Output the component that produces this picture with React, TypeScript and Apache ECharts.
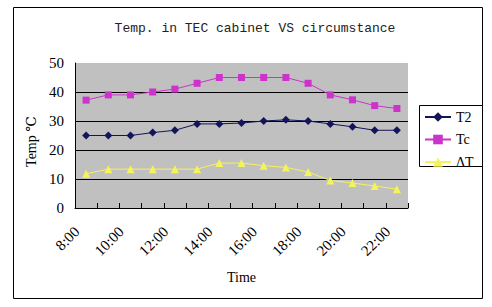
import React, { useEffect, useRef } from "react";
import * as echarts from "echarts";

const categories = ["8:00", "9:00", "10:00", "11:00", "12:00", "13:00", "14:00", "15:00", "16:00", "17:00", "18:00", "19:00", "20:00", "21:00", "22:00"];
const t2Values = [25, 25, 25, 26, 26.8, 29, 29, 29.3, 30, 30.4, 30, 29, 28, 26.8, 26.8];
const tcValues = [37.2, 39, 39, 40, 41, 43, 45, 45, 45, 45, 43, 39, 37.3, 35.3, 34.3];
const dtValues = [11.8, 13.4, 13.4, 13.4, 13.4, 13.4, 15.5, 15.5, 14.6, 14, 12.4, 9.5, 8.6, 7.6, 6.5];
const seriesNames = ["T2", "Tc", "ΔT"];
const titleText = "Temp. in TEC cabinet VS circumstance";
const xName = "Time";
const yName = "Temp ℃";

const serif = "'Liberation Serif', 'DejaVu Serif', serif";

export default function App() {
  const ref = useRef<HTMLDivElement>(null);
  useEffect(() => {
    if (!ref.current) return;
    const chart = echarts.init(ref.current, undefined, { renderer: "svg" });
    chart.setOption({
      animation: false,
      backgroundColor: "#ffffff",
      title: {
        text: titleText,
        left: 250,
        top: 17,
        textAlign: "center",
        textStyle: { fontFamily: "'Liberation Mono', monospace", fontSize: 13, fontWeight: "normal", color: "#222" },
      },
      graphic: [
        { type: "rect", shape: { x: 13.5, y: 7.5, width: 469, height: 291 }, style: { fill: "none", stroke: "#000", lineWidth: 1 }, z: -1 },
        { type: "rect", shape: { x: 419.5, y: 105.5, width: 63, height: 61 }, style: { fill: "#fff", stroke: "#000", lineWidth: 1 }, z: 0 },
      ],
      legend: {
        orient: "vertical",
        left: 424,
        top: 110,
        itemWidth: 26,
        itemHeight: 12,
        itemGap: 8.5,
        padding: 0,
        z: 5,
        textStyle: { fontFamily: serif, fontSize: 14, color: "#000" },
        data: seriesNames,
      },
      grid: {
        left: 75,
        top: 63,
        width: 333,
        height: 145,
        show: true,
        backgroundColor: "#c0c0c0",
        borderWidth: 0,
      },
      xAxis: {
        type: "category",
        data: categories,
        boundaryGap: true,
        name: xName,
        nameLocation: "middle",
        nameGap: 62,
        nameTextStyle: { fontFamily: serif, fontSize: 14, color: "#000" },
        axisLine: { lineStyle: { color: "#000", width: 1 } },
        axisTick: { show: true, inside: true, length: 5, interval: 0, lineStyle: { color: "#000" } },
        axisLabel: {
          interval: 1,
          rotate: 45,
          margin: 12,
          padding: [0, 13, 0, 0],
          fontFamily: serif,
          fontSize: 15,
          color: "#000",
        },
        splitLine: { show: false },
      },
      yAxis: {
        type: "value",
        min: 0,
        max: 50,
        interval: 10,
        name: yName,
        nameLocation: "middle",
        nameRotate: 90,
        nameGap: 36,
        nameTextStyle: { fontFamily: serif, fontSize: 14, color: "#000", padding: [0, 12, 0, 0] },
        axisLine: { show: true, lineStyle: { color: "#000", width: 1 } },
        axisTick: { show: false },
        axisLabel: { margin: 11, fontFamily: serif, fontSize: 15, color: "#000" },
        splitLine: { show: true, showMaxLine: false, lineStyle: { color: "#000", width: 1 } },
      },
      series: [
        {
          name: seriesNames[0],
          type: "line",
          data: t2Values,
          symbol: "diamond",
          symbolSize: 8,
          itemStyle: { color: "#14145a" },
          lineStyle: { color: "#14145a", width: 1 },
        },
        {
          name: seriesNames[1],
          type: "line",
          data: tcValues,
          symbol: "rect",
          symbolSize: 7,
          itemStyle: { color: "#cc33cc" },
          lineStyle: { color: "#cc33cc", width: 1 },
        },
        {
          name: seriesNames[2],
          type: "line",
          data: dtValues,
          symbol: "triangle",
          symbolSize: 8,
          itemStyle: { color: "#f4f45a" },
          lineStyle: { color: "#f4f45a", width: 1 },
        },
      ],
    });
    return () => chart.dispose();
  }, []);
  return <div ref={ref} style={{ position: "fixed", left: 0, top: 0, width: 492, height: 307 }} />;
}
